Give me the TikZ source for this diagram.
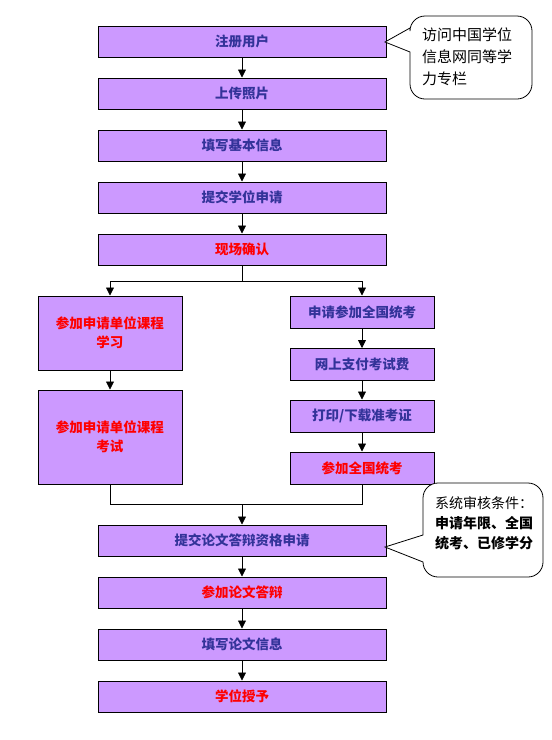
\documentclass[tikz,border=0pt]{standalone}
\usepackage{fontspec}
\setmainfont{Noto Sans CJK SC}
\usetikzlibrary{arrows.meta}
\definecolor{boxfill}{HTML}{CC99FF}
\definecolor{navytext}{HTML}{333399}
\definecolor{redtext}{HTML}{FF0000}
\tikzset{
  stepbox/.style={draw=black, line width=1pt, fill=boxfill, inner sep=0pt,
    minimum height=31pt, text=navytext, align=center,
    font=\bfseries\fontsize{13.5}{19}\selectfont},
  mainbox/.style={stepbox, minimum width=288pt},
  sidebox/.style={stepbox, minimum width=144pt},
  redbox/.style={text=redtext},
  arr/.style={draw=black, line width=0.8pt, -{Triangle[width=8pt,length=8pt]}},
  plainline/.style={draw=black, line width=0.8pt},
  calloutshape/.style={draw=black, line width=0.8pt, fill=white},
  callouttext/.style={align=left, inner sep=0pt, anchor=west}
}
\begin{document}
\begin{tikzpicture}[x=1pt,y=-1pt]
\useasboundingbox[fill=white] (0,0) rectangle (552,740);

% main column
\node[mainbox] (reg) at (242,41.5) {注册用户};
\node[mainbox] (photo) at (242,93.5) {上传照片};
\node[mainbox] (info) at (242,145.5) {填写基本信息};
\node[mainbox] (apply) at (242,197.5) {提交学位申请};
\node[mainbox, redbox] (confirm) at (242,249.5) {现场确认};

% left branch
\node[sidebox, redbox, minimum height=74pt] (l1) at (110,333) {参加申请单位课程\\学习};
\node[sidebox, redbox, minimum height=94pt] (l2) at (110,437) {参加申请单位课程\\考试};

% right branch
\node[sidebox, minimum height=32pt] (r1) at (362,312) {申请参加全国统考};
\node[sidebox, minimum height=32pt] (r2) at (362,364.5) {网上支付考试费};
\node[sidebox, minimum height=32pt] (r3) at (362,416) {打印/下载准考证};
\node[sidebox, redbox, minimum height=32pt] (r4) at (362,468) {参加全国统考};

% bottom column
\node[mainbox] (thesis) at (242,540.5) {提交论文答辩资格申请};
\node[mainbox, redbox] (defense) at (242,592.5) {参加论文答辩};
\node[mainbox] (tinfo) at (242,644.5) {填写论文信息};
\node[mainbox, redbox] (grant) at (242,696.5) {学位授予};

% connectors
\draw[arr] (reg) -- (photo);
\draw[arr] (photo) -- (info);
\draw[arr] (info) -- (apply);
\draw[arr] (apply) -- (confirm);
\coordinate (split) at (242,281);
\draw[plainline] (confirm.south) -- (split);
\draw[arr] (split) -| (l1.north);
\draw[arr] (split) -| (r1.north);
\draw[arr] (l1) -- (l2);
\draw[arr] (r1) -- (r2);
\draw[arr] (r2) -- (r3);
\draw[arr] (r3) -- (r4);
\coordinate (merge) at (242,504);
\draw[plainline] (l2.south) |- (merge);
\draw[plainline] (r4.south) |- (merge);
\draw[arr] (merge) -- (thesis.north);
\draw[arr] (thesis) -- (defense);
\draw[arr] (defense) -- (tinfo);
\draw[arr] (tinfo) -- (grant);

% callout 1
\coordinate (tip1) at (385,42);
\draw[calloutshape] (tip1) -- (410,52) {[rounded corners=15pt] -- (410,99) -- (532,99) -- (532,16) -- (410,16)} -- (410,28) -- cycle;
\node[callouttext, font=\fontsize{15}{22}\selectfont] (c1) at (422,57) {访问中国学位\\信息网同等学\\力专栏};

% callout 2
\coordinate (tip2) at (385,547);
\draw[calloutshape] (tip2) -- (423,562) {[rounded corners=15pt] -- (423,577) -- (543,577) -- (543,483) -- (423,483)} -- (423,535) -- cycle;
\node[callouttext, font=\fontsize{14}{20}\selectfont] (c2) at (435,523) {系统审核条件：\\\textbf{申请年限、全国}\\\textbf{统考、已修学分}};
\end{tikzpicture}
\end{document}
